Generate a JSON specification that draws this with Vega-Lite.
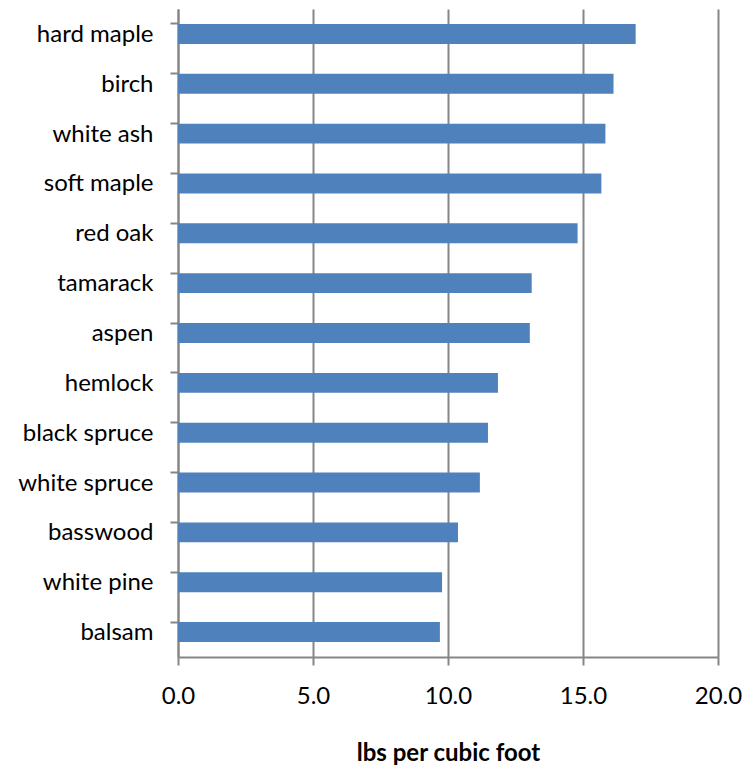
{
  "$schema": "https://vega.github.io/schema/vega-lite/v6.json",
  "autosize": "none",
  "width": 540,
  "height": 648,
  "padding": {"left": 178, "top": 9, "right": 36, "bottom": 110},
  "background": "white",
  "config": {"view": {"stroke": null}, "font": "Lato"},
  "data": {"values": [
    {"species": "hard maple", "lbs": 16.95},
    {"species": "birch", "lbs": 16.13},
    {"species": "white ash", "lbs": 15.83},
    {"species": "soft maple", "lbs": 15.68},
    {"species": "red oak", "lbs": 14.8},
    {"species": "tamarack", "lbs": 13.1},
    {"species": "aspen", "lbs": 13.03},
    {"species": "hemlock", "lbs": 11.85},
    {"species": "black spruce", "lbs": 11.48},
    {"species": "white spruce", "lbs": 11.18},
    {"species": "basswood", "lbs": 10.37},
    {"species": "white pine", "lbs": 9.78},
    {"species": "balsam", "lbs": 9.7}
  ]},
  "mark": {"type": "bar", "color": "#4F81BD"},
  "encoding": {
    "y": {
      "field": "species", "type": "nominal", "sort": null,
      "scale": {"paddingInner": 0.6, "paddingOuter": 0.3},
      "axis": {
        "title": null, "bandPosition": 0, "grid": false,
        "domainColor": "#868686", "domainWidth": 2,
        "tickColor": "#868686", "tickWidth": 2, "tickSize": 8,
        "labelFontSize": 24, "labelColor": "#000000", "labelPadding": 17,
        "labelFont": "Lato", "labelOffset": 1
      }
    },
    "x": {
      "field": "lbs", "type": "quantitative",
      "scale": {"domain": [0, 20], "nice": false},
      "axis": {
        "values": [0, 5, 10, 15, 20], "format": ".1f",
        "title": "lbs per cubic foot", "titleFontSize": 24, "titleFont": "Lato",
        "titleFontWeight": "bold", "titleColor": "#000000", "titlePadding": 33,
        "grid": true, "gridColor": "#868686", "gridWidth": 2,
        "domainColor": "#868686", "domainWidth": 2,
        "tickColor": "#868686", "tickWidth": 2, "tickSize": 8,
        "labelFontSize": 24, "labelColor": "#000000", "labelPadding": 19,
        "labelFlush": false, "labelFont": "Lato"
      }
    }
  }
}
